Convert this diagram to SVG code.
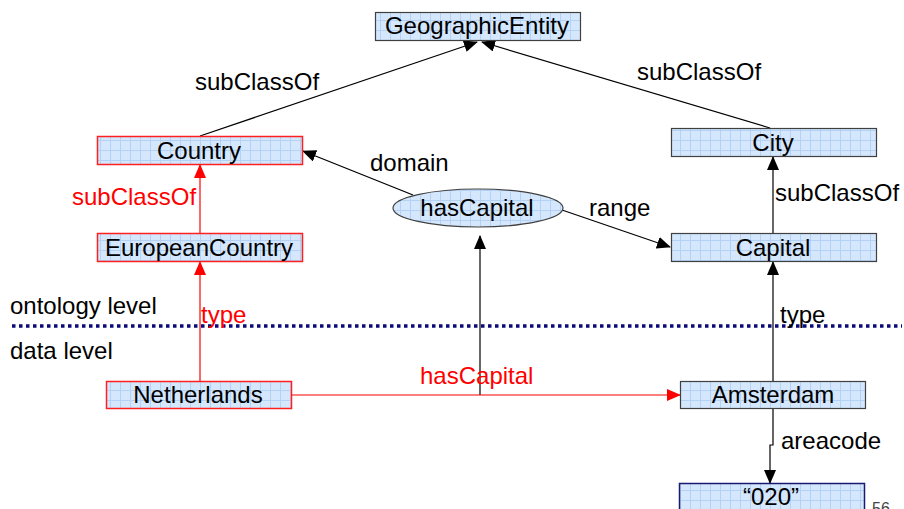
<svg xmlns="http://www.w3.org/2000/svg" width="904" height="509" viewBox="0 0 904 509">
  <defs>
    <pattern id="grid" width="10" height="10" patternUnits="userSpaceOnUse">
      <rect width="10" height="10" fill="#d5e7fc"/>
      <path d="M0 0.5H10M0.5 0V10" stroke="#b4d2f5" stroke-width="1" fill="none"/>
    </pattern>
    <marker id="ah" markerWidth="14" markerHeight="12" refX="13" refY="6" orient="auto" markerUnits="userSpaceOnUse">
      <path d="M0 0L14 6L0 12Z" fill="#000"/>
    </marker>
    <marker id="ahr" markerWidth="14" markerHeight="12" refX="13" refY="6" orient="auto" markerUnits="userSpaceOnUse">
      <path d="M0 0L14 6L0 12Z" fill="#ff0000"/>
    </marker>
  </defs>
  <style>
    text { font-family: "Liberation Sans", Arial, sans-serif; font-size: 24px; fill: #000; }
    .red { fill: #ff0000; }
    .box { fill: url(#grid); stroke: #404040; stroke-width: 1.2; }
    .rbox { fill: url(#grid); stroke: #ff2020; stroke-width: 1.5; }
    .nbox { fill: url(#grid); stroke: #1a1a70; stroke-width: 1.5; }
    .c { text-anchor: middle; }
    .ln { stroke: #000; stroke-width: 1.2; fill: none; marker-end: url(#ah); }
    .rln { stroke: #ff0000; stroke-width: 1.2; fill: none; marker-end: url(#ahr); }
  </style>
  <rect width="904" height="509" fill="#fff"/>

  <!-- level separator -->
  <line x1="12" y1="326" x2="902" y2="326" stroke="#0a0a78" stroke-width="3.5" stroke-dasharray="3.5 3.5"/>
  <text x="10" y="314">ontology level</text>
  <text x="10" y="359">data level</text>

  <g id="connectors">
    <path class="ln" d="M200 136L477 42"/>
    <path class="ln" d="M770 128L482 42"/>
    <path class="ln" d="M413 195L303 151"/>
    <path class="ln" d="M562 210L670 247"/>
    <path class="ln" d="M773 233V157"/>
    <path class="ln" d="M773 381V262"/>
    <path class="ln" d="M480 395V236"/>
    <path class="ln" d="M773 409V445H770V483"/>
    <path class="rln" d="M200 233V165"/>
    <path class="rln" d="M200 381V262"/>
    <path class="rln" d="M291 395H680"/>
  </g>

  <g id="labels">
    <text x="195" y="90">subClassOf</text>
    <text x="637" y="80">subClassOf</text>
    <text x="370" y="171">domain</text>
    <text x="589" y="216">range</text>
    <text x="775" y="201">subClassOf</text>
    <text class="red" x="72" y="205">subClassOf</text>
    <text class="red" x="201" y="323">type</text>
    <text x="780" y="323">type</text>
    <text class="red" x="420" y="384">hasCapital</text>
    <text x="781" y="449">areacode</text>
  </g>

  <g id="GeographicEntity">
    <rect class="box" x="375.5" y="12.5" width="205" height="28"/>
    <text class="c" x="477" y="34">GeographicEntity</text>
  </g>
  <g id="Country">
    <rect class="rbox" x="97.5" y="136.5" width="205" height="28"/>
    <text class="c" x="199" y="159">Country</text>
  </g>
  <g id="EuropeanCountry">
    <rect class="rbox" x="97.5" y="233.5" width="205" height="28"/>
    <text class="c" x="199" y="256">EuropeanCountry</text>
  </g>
  <g id="City">
    <rect class="box" x="671.5" y="128.5" width="205" height="28"/>
    <text class="c" x="773" y="151">City</text>
  </g>
  <g id="Capital">
    <rect class="box" x="671.5" y="233.5" width="205" height="28"/>
    <text class="c" x="773" y="256">Capital</text>
  </g>
  <g id="hasCapital">
    <ellipse class="box" cx="478" cy="208" rx="85" ry="19"/>
    <text class="c" x="477" y="216">hasCapital</text>
  </g>
  <g id="Netherlands">
    <rect class="rbox" x="106.5" y="381.5" width="185" height="27"/>
    <text class="c" x="198" y="403">Netherlands</text>
  </g>
  <g id="Amsterdam">
    <rect class="box" x="680.5" y="381.5" width="185" height="27"/>
    <text class="c" x="773" y="403">Amsterdam</text>
  </g>
  <g id="areacode020">
    <rect class="nbox" x="679.5" y="483.5" width="185" height="30"/>
    <text class="c" x="771" y="505">“020”</text>
  </g>

  <text x="872" y="514" style="font-size:16px;fill:#444">56</text>
</svg>
